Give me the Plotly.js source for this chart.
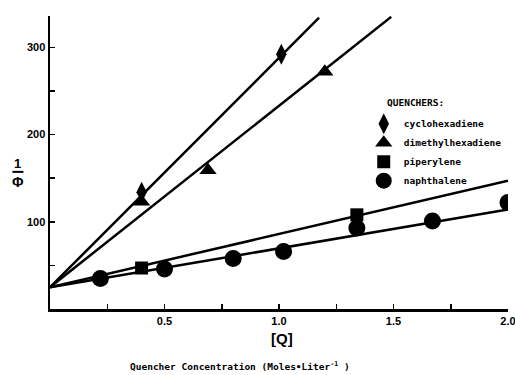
<!DOCTYPE html>
<html>
<head>
<meta charset="utf-8">
<script src="https://cdn.plot.ly/plotly-3.0.1.min.js"></script>
<style>html,body{margin:0;padding:0;background:#fff;}#chart{width:515px;height:375px;}</style>
</head>
<body>
<div id="chart"></div>
<script>
// Data
const seriesNames = ['cyclohexadiene', 'dimethylhexadiene', 'piperylene', 'naphthalene'];
const cyclohexadieneX = [0.4, 1.01];
const cyclohexadieneY = [134, 292];
const dimethylhexadieneX = [0.4, 0.69, 1.2];
const dimethylhexadieneY = [123, 159, 272];
const piperyleneX = [0.4, 1.34];
const piperyleneY = [47, 108];
const naphthaleneX = [0.22, 0.5, 0.8, 1.02, 1.34, 1.67, 2.0];
const naphthaleneY = [35, 46, 58, 66, 93, 101, 122];
// fitted straight lines (start, end)
const cyclohexadieneFitX = [0, 1.175];
const cyclohexadieneFitY = [25, 334];
const dimethylhexadieneFitX = [0, 1.49];
const dimethylhexadieneFitY = [25, 335];
const piperyleneFitX = [0, 2.0];
const piperyleneFitY = [25, 147];
const naphthaleneFitX = [0, 2.0];
const naphthaleneFitY = [25, 114];
// ticks
const xTickVals = [0.25, 0.5, 0.75, 1.0, 1.25, 1.5, 1.75, 2.0];
const xTickText = ['', '0.5', '', '1.0', '', '1.5', '', '2.0'];
const yTickVals = [50, 100, 150, 200, 250, 300];
const yTickText = ['', '100', '', '200', '', '300'];

const lineStyle = {color: '#000', width: 2.5};
function fit(x, y) {
  return {x: x, y: y, mode: 'lines', line: lineStyle, showlegend: false, hoverinfo: 'skip'};
}
const traces = [
  fit(cyclohexadieneFitX, cyclohexadieneFitY),
  fit(dimethylhexadieneFitX, dimethylhexadieneFitY),
  fit(piperyleneFitX, piperyleneFitY),
  fit(naphthaleneFitX, naphthaleneFitY),
  {x: cyclohexadieneX, y: cyclohexadieneY, name: seriesNames[0], mode: 'markers',
   marker: {symbol: 'diamond-tall', size: 15, color: '#000'}},
  {x: dimethylhexadieneX, y: dimethylhexadieneY, name: seriesNames[1], mode: 'markers',
   marker: {symbol: 'triangle-up', size: 15, color: '#000'}},
  {x: piperyleneX, y: piperyleneY, name: seriesNames[2], mode: 'markers',
   marker: {symbol: 'square', size: 13, color: '#000'}},
  {x: naphthaleneX, y: naphthaleneY, name: seriesNames[3], mode: 'markers',
   marker: {symbol: 'circle', size: 17, color: '#000'}}
];

const mono = 'DejaVu Sans Mono, monospace';
const layout = {
  width: 515, height: 375,
  margin: {l: 50, r: 7, t: 16, b: 66},
  paper_bgcolor: '#fff', plot_bgcolor: '#fff',
  font: {family: 'Liberation Sans, Arial, sans-serif', color: '#000'},
  xaxis: {
    range: [0, 2.0], showgrid: false, zeroline: false, automargin: false,
    showline: true, linecolor: '#000', linewidth: 2.5,
    ticks: 'inside', ticklen: 5, tickwidth: 1.5, tickcolor: '#000',
    tickvals: xTickVals, ticktext: xTickText, ticklabeloverflow: 'allow',
    tickfont: {size: 11, weight: 'bold', family: 'Liberation Sans, Arial, sans-serif'}
  },
  yaxis: {
    range: [0, 336], showgrid: false, zeroline: false, automargin: false,
    showline: true, linecolor: '#000', linewidth: 2.5,
    ticks: 'inside', ticklen: 5, tickwidth: 1.5, tickcolor: '#000',
    tickvals: yTickVals, ticktext: yTickText,
    tickfont: {size: 11, weight: 'bold', family: 'Liberation Sans, Arial, sans-serif'}
  },
  showlegend: true,
  legend: {
    x: 0.685, y: 0.682, xanchor: 'left', yanchor: 'top',
    bgcolor: 'rgba(0,0,0,0)', borderwidth: 0,
    itemwidth: 30, tracegroupgap: 0,
    font: {family: mono, size: 9.5, weight: 'bold'}
  },
  annotations: [
    {xref: 'paper', yref: 'paper', x: 0.731, y: 0.706, yanchor: 'middle', xanchor: 'left',
     text: '<b>QUENCHERS:</b>', showarrow: false, font: {size: 9.5, family: mono}},
    {xref: 'paper', yref: 'paper', x: 0.507, y: -0.099, yanchor: 'middle', xanchor: 'center',
     text: '<b>[Q]</b>', showarrow: false, font: {size: 15}},
    {xref: 'paper', yref: 'paper', x: 0.415, y: -0.195, yanchor: 'middle', xanchor: 'center',
     text: '<b>Quencher Concentration (Moles•Liter<sup>-1</sup> )</b>', showarrow: false,
     font: {size: 9.5, family: mono}},
    {xref: 'paper', yref: 'paper', x: -0.07, y: 0.498, yanchor: 'middle', xanchor: 'center',
     text: '<b>1</b>', showarrow: false, font: {size: 13}},
    {xref: 'paper', yref: 'paper', x: -0.07, y: 0.433, yanchor: 'middle', xanchor: 'center',
     text: '<b>Φ</b>', showarrow: false, font: {size: 14}}
  ],
  shapes: [
    {type: 'line', xref: 'paper', yref: 'paper', x0: -0.082, x1: -0.058, y0: 0.468, y1: 0.468,
     line: {color: '#000', width: 2}}
  ]
};

Plotly.newPlot('chart', traces, layout, {staticPlot: true, displayModeBar: false});
</script>
</body>
</html>
